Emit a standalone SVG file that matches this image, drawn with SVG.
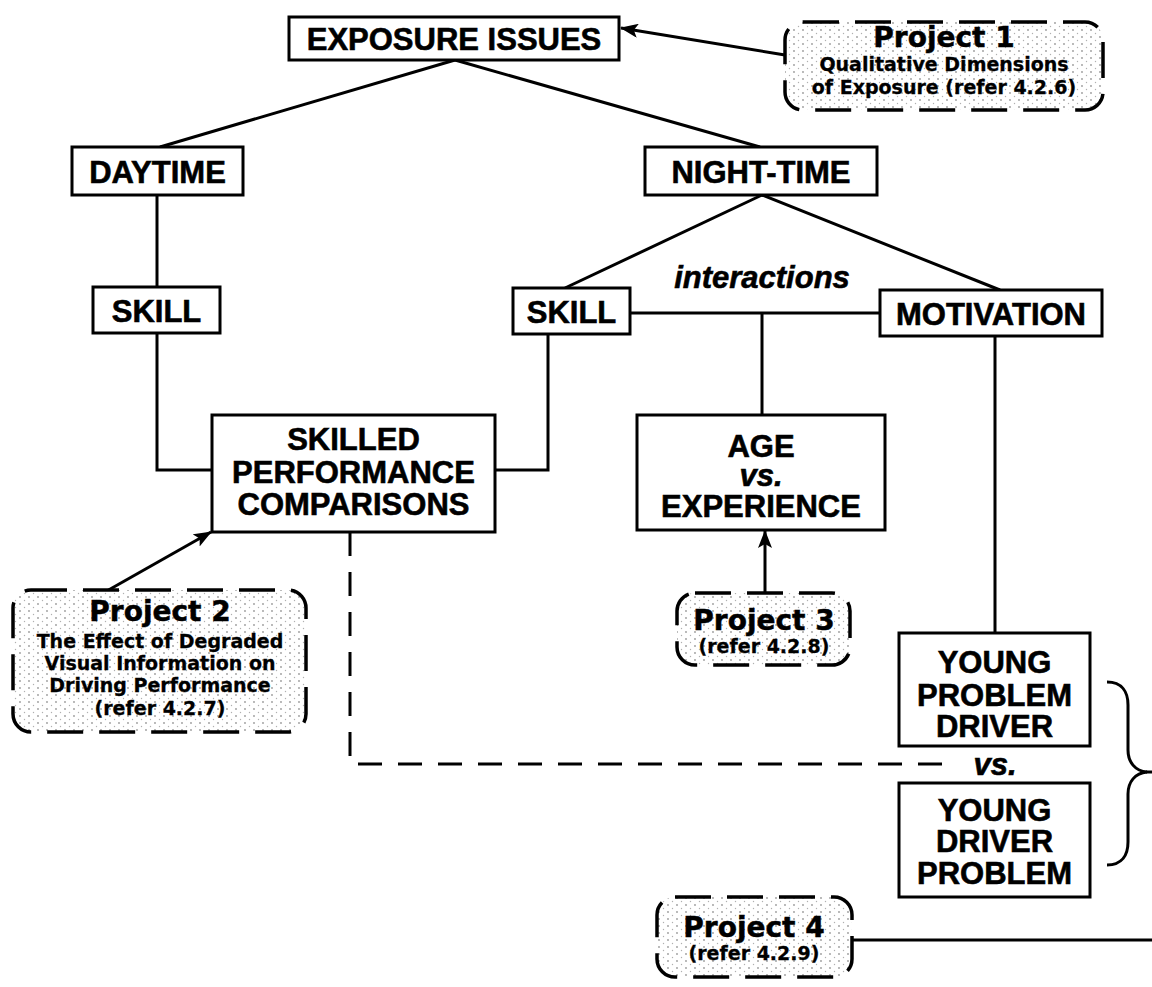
<svg xmlns="http://www.w3.org/2000/svg" width="1152" height="987" viewBox="0 0 1152 987">
<defs>
<pattern id="dots" width="9" height="7" patternUnits="userSpaceOnUse">
<rect width="9" height="7" fill="#ffffff"/>
<circle cx="2" cy="2" r="0.9" fill="#9a9a9a"/>
<circle cx="6.5" cy="5.5" r="0.7" fill="#b0b0b0"/>
</pattern>
<marker id="arrow" viewBox="0 0 18 14" refX="17" refY="7" markerWidth="18" markerHeight="14" markerUnits="userSpaceOnUse" orient="auto">
<path d="M0,0 L18,7 L0,14 L4,7 Z" fill="#000"/>
</marker>
</defs>
<style>
.box{fill:#fff;stroke:#000;stroke-width:3}
.proj{fill:url(#dots);stroke:#000;stroke-width:3.5;stroke-dasharray:36 16}
.lbl{font-family:"Liberation Sans",Arial,sans-serif;font-weight:bold;font-size:31px;text-anchor:middle;fill:#000;stroke:#000;stroke-width:0.6}
.it{font-style:italic}
.pt{font-family:"DejaVu Sans","Liberation Sans",sans-serif;font-weight:bold;font-size:28px;text-anchor:middle;fill:#000;stroke:#000;stroke-width:0.5}
.ps{font-family:"DejaVu Sans","Liberation Sans",sans-serif;font-weight:bold;font-size:19px;text-anchor:middle;fill:#000;stroke:#000;stroke-width:0.3}
.ln{fill:none;stroke:#000;stroke-width:3}
.dash{fill:none;stroke:#000;stroke-width:3;stroke-dasharray:24 16}
</style>
<g id="connectors">
<path class="ln" d="M455,60 L160,147"/>
<path class="ln" d="M455,60 L760,147"/>
<path class="ln" d="M157,195 V287"/>
<path class="ln" d="M157,333 V470 H212"/>
<path class="ln" d="M495,470 H548 V334"/>
<path class="ln" d="M762,195 L565,288"/>
<path class="ln" d="M762,195 L1000,290"/>
<path class="ln" d="M630,313 H880"/>
<path class="ln" d="M762,313 V415"/>
<path class="ln" d="M995,336 V633"/>
<path class="dash" d="M350,532 V764 H957"/>
<path class="ln" marker-end="url(#arrow)" d="M785,55 L621,28"/>
<path class="ln" marker-end="url(#arrow)" d="M105,592 L211,532"/>
<path class="ln" marker-end="url(#arrow)" d="M765,594 V531"/>
<path class="ln" d="M852,940 H1152"/>
<path class="ln" stroke-width="4" d="M1107,682 C1122,682 1128,692 1128,705 L1128,750 C1128,762 1135,771 1147,772 C1135,773 1128,782 1128,794 L1128,842 C1128,855 1122,865 1107,865"/>
<path class="ln" d="M1146,772 H1152"/>
</g>
<g id="exposure">
<rect class="box" x="289" y="17" width="330" height="43"/>
<text class="lbl" x="454" y="50">EXPOSURE ISSUES</text>
</g>
<g id="project1">
<rect class="proj" x="785" y="22" width="318" height="88" rx="18"/>
<text class="pt" x="944" y="47">Project 1</text>
<text class="ps" x="944" y="71">Qualitative Dimensions</text>
<text class="ps" x="944" y="94">of Exposure (refer 4.2.6)</text>
</g>
<g id="daytime">
<rect class="box" x="72" y="147" width="171" height="48"/>
<text class="lbl" x="157.5" y="183">DAYTIME</text>
</g>
<g id="nighttime">
<rect class="box" x="645" y="147" width="232" height="48"/>
<text class="lbl" x="761" y="183">NIGHT-TIME</text>
</g>
<g id="skill-day">
<rect class="box" x="93" y="287" width="127" height="46"/>
<text class="lbl" x="156.5" y="322">SKILL</text>
</g>
<g id="skill-night">
<rect class="box" x="513" y="288" width="117" height="46"/>
<text class="lbl" x="571.5" y="323">SKILL</text>
</g>
<g id="interactions">
<text class="lbl it" x="762" y="288" font-size="32">interactions</text>
</g>
<g id="motivation">
<rect class="box" x="880" y="290" width="222" height="46"/>
<text class="lbl" x="991" y="325">MOTIVATION</text>
</g>
<g id="skilled">
<rect class="box" x="212" y="415" width="283" height="117"/>
<text class="lbl" x="353.5" y="450">SKILLED</text>
<text class="lbl" x="353.5" y="483">PERFORMANCE</text>
<text class="lbl" x="353.5" y="515">COMPARISONS</text>
</g>
<g id="age">
<rect class="box" x="637" y="415" width="248" height="115"/>
<text class="lbl" x="761" y="457">AGE</text>
<text class="lbl it" x="761" y="486" font-size="29">vs.</text>
<text class="lbl" x="761" y="517">EXPERIENCE</text>
</g>
<g id="project2">
<rect class="proj" x="13" y="590" width="293" height="142" rx="18"/>
<text class="pt" x="160" y="621">Project 2</text>
<text class="ps" x="160" y="648">The Effect of Degraded</text>
<text class="ps" x="160" y="670">Visual Information on</text>
<text class="ps" x="160" y="692">Driving Performance</text>
<text class="ps" x="160" y="715">(refer 4.2.7)</text>
</g>
<g id="project3">
<rect class="proj" x="677" y="593" width="173" height="72" rx="18"/>
<text class="pt" x="764" y="630">Project 3</text>
<text class="ps" x="764" y="653">(refer 4.2.8)</text>
</g>
<g id="ypd">
<rect class="box" x="899" y="633" width="191" height="113"/>
<text class="lbl" x="994.5" y="673">YOUNG</text>
<text class="lbl" x="994.5" y="706">PROBLEM</text>
<text class="lbl" x="994.5" y="737">DRIVER</text>
</g>
<g id="vs">
<text class="lbl it" x="995" y="775" font-size="29">vs.</text>
</g>
<g id="ydp">
<rect class="box" x="899" y="783" width="191" height="114"/>
<text class="lbl" x="994.5" y="821">YOUNG</text>
<text class="lbl" x="994.5" y="852">DRIVER</text>
<text class="lbl" x="994.5" y="884">PROBLEM</text>
</g>
<g id="project4">
<rect class="proj" x="657" y="897" width="195" height="80" rx="18"/>
<text class="pt" x="754" y="937">Project 4</text>
<text class="ps" x="754" y="960">(refer 4.2.9)</text>
</g>
</svg>
